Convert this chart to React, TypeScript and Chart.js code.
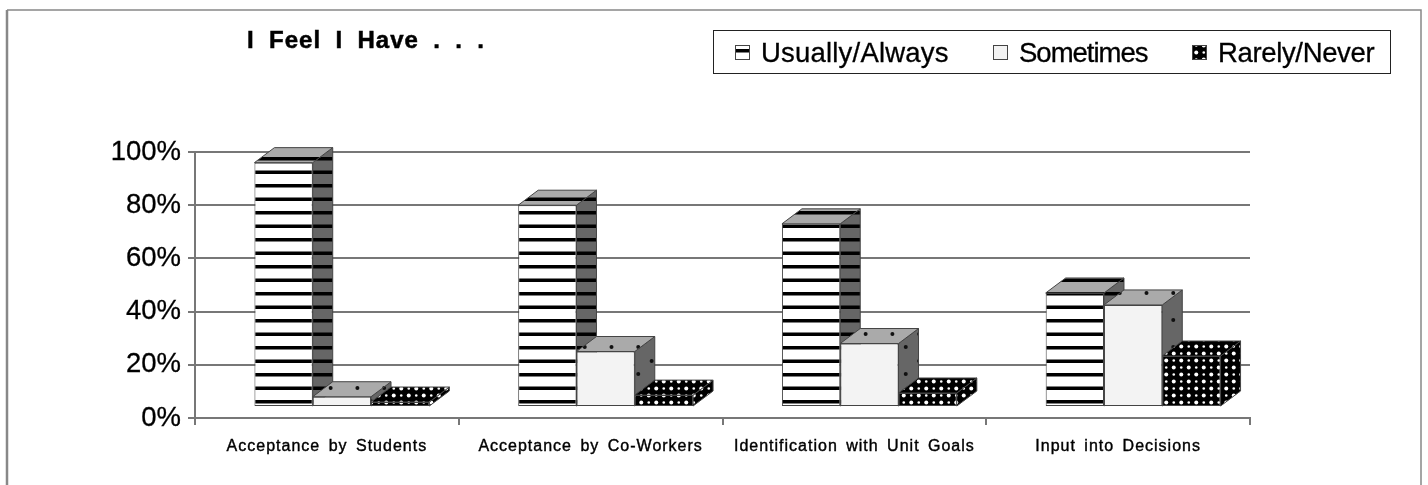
import React, { useEffect, useRef } from "react";
import { Chart, registerables } from "chart.js";

Chart.register(...registerables);

const categories = ["Acceptance by Students", "Acceptance by Co-Workers", "Identification with Unit Goals", "Input into Decisions"];
const usuallyAlways = [96, 80, 73, 47];
const sometimes = [8, 25, 28, 42.5];
const rarelyNever = [6, 8.6, 9.4, 23.3];
const seriesNames = ["Usually/Always", "Sometimes", "Rarely/Never"];
const yTicks = [0, 20, 40, 60, 80, 100];
const titleText = "I Feel I Have . . .";
const floorValue = 4.5;

const DX = 20;
const DY = 15;
const SHIFT = 15;
const FONT = '"Liberation Sans", Arial, sans-serif';

function tile(w: number, h: number, paint: (g: CanvasRenderingContext2D) => void) {
  const c = document.createElement("canvas");
  c.width = w;
  c.height = h;
  paint(c.getContext("2d")!);
  return c;
}
function pat(c: HTMLCanvasElement) {
  return c.getContext("2d")!.createPattern(c, "repeat")!;
}
const stripes = (bg: string) =>
  pat(tile(8, 27, (g) => {
    g.fillStyle = bg;
    g.fillRect(0, 0, 8, 27);
    g.fillStyle = "#000";
    g.fillRect(0, 8.5, 8, 3.5);
    g.fillRect(0, 22, 8, 3.5);
  }));
const dots = (bg: string) =>
  pat(tile(107, 27, (g) => {
    g.fillStyle = bg;
    g.fillRect(0, 0, 107, 27);
    g.fillStyle = "#111";
    for (let k = 0; k < 4; k++) {
      g.beginPath();
      g.arc(8 + 26.75 * k, 23, 2, 0, Math.PI * 2);
      g.fill();
      g.beginPath();
      g.arc(21.4 + 26.75 * k, 10, 2, 0, Math.PI * 2);
      g.fill();
    }
  }));
const lattice = () =>
  pat(tile(15, 14, (g) => {
    g.fillStyle = "#000";
    g.fillRect(0, 0, 15, 14);
    g.fillStyle = "#fff";
    [[3.75, 3.5, 2], [11.25, 3.5, 1.3], [3.75, 10.5, 1.3], [11.25, 10.5, 2]].forEach(([x, y, r]) => {
      g.beginPath();
      g.arc(x, y, r, 0, Math.PI * 2);
      g.fill();
    });
  }));

function poly(ctx: CanvasRenderingContext2D, pts: number[][], fill: CanvasPattern | string) {
  ctx.beginPath();
  pts.forEach(([x, y], i) => (i ? ctx.lineTo(x, y) : ctx.moveTo(x, y)));
  ctx.closePath();
  ctx.fillStyle = fill;
  ctx.fill();
  ctx.strokeStyle = "#444";
  ctx.lineWidth = 1;
  ctx.stroke();
}

export default function App() {
  const ref = useRef<HTMLCanvasElement>(null);
  useEffect(() => {
    const faces = [
      { front: stripes("#fff"), side: stripes("#666"), top: stripes("#aaa") },
      { front: "#f3f3f3", side: dots("#666"), top: dots("#aaa") },
      { front: lattice(), side: lattice(), top: lattice() },
    ];

    const depthBars = {
      id: "depthBars",
      beforeDatasetsDraw(chart: any) {
        const { ctx } = chart;
        ctx.save();
        ctx.translate(SHIFT, 0);
        chart.getSortedVisibleDatasetMetas().forEach((meta: any, d: number) => {
          meta.data.forEach((bar: any) => {
            const p = bar.getProps(["x", "y", "base", "width"], true);
            const l = p.x - p.width / 2;
            const r = p.x + p.width / 2;
            poly(ctx, [[r, p.y], [r + DX, p.y - DY], [r + DX, p.base - DY], [r, p.base]], faces[d].side);
            poly(ctx, [[l, p.y], [l + DX, p.y - DY], [r + DX, p.y - DY], [r, p.y]], faces[d].top);
            bar.draw(ctx);
          });
        });
        ctx.restore();
        // the x axis labels are drawn next: they are widely tracked in the reference
        ctx.letterSpacing = "1px";
        ctx.wordSpacing = "3px";
        return false;
      },
    };

    const annotations = {
      id: "annotations",
      afterDraw(chart: any) {
        const { ctx } = chart;
        ctx.save();
        ctx.letterSpacing = "0px";
        ctx.wordSpacing = "0px";
        ctx.strokeStyle = "#888";
        ctx.lineWidth = 1.5;
        ctx.beginPath();
        ctx.moveTo(1421, 485);
        ctx.lineTo(1421, 10);
        ctx.lineTo(7, 10);
        ctx.stroke();
        ctx.lineWidth = 2.5;
        ctx.beginPath();
        ctx.moveTo(7, 10);
        ctx.lineTo(7, 485);
        ctx.stroke();

        ctx.fillStyle = "#000";
        ctx.strokeStyle = "#000";
        ctx.textBaseline = "alphabetic";
        ctx.textAlign = "left";
        ctx.font = `bold 24px ${FONT}`;
        ctx.letterSpacing = "1px";
        ctx.wordSpacing = "6.7px";
        ctx.lineWidth = 0.5;
        ctx.fillText(titleText, 247, 48);
        ctx.strokeText(titleText, 247, 48);
        ctx.letterSpacing = "0px";
        ctx.wordSpacing = "0px";

        ctx.lineWidth = 1;
        ctx.fillStyle = "#fff";
        ctx.fillRect(713.5, 30.5, 677, 43);
        ctx.strokeStyle = "#222";
        ctx.strokeRect(713.5, 30.5, 677, 43);

        ctx.font = `27.5px ${FONT}`;
        const boxX = [735, 993, 1192];
        const textX = [761, 1019, 1218];
        const tracking = ["0.2px", "-1px", "-0.35px"];
        seriesNames.forEach((name, i) => {
          ctx.fillStyle = faces[i].front;
          ctx.fillRect(boxX[i], 45, 15, 15);
          ctx.strokeStyle = "#444";
          ctx.lineWidth = 1;
          ctx.strokeRect(boxX[i] + 0.5, 45.5, 14, 14);
          ctx.fillStyle = "#000";
          ctx.strokeStyle = "#000";
          ctx.lineWidth = 0.3;
          ctx.letterSpacing = tracking[i];
          ctx.fillText(name, textX[i], 62);
          ctx.strokeText(name, textX[i], 62);
          ctx.letterSpacing = "0px";
        });
        ctx.restore();
      },
    };

    const chart = new Chart(ref.current!, {
      type: "bar",
      data: {
        labels: categories,
        datasets: [usuallyAlways, sometimes, rarelyNever].map((data, i) => ({
          label: seriesNames[i],
          data,
          base: floorValue,
          backgroundColor: faces[i].front,
          borderColor: "#444",
          borderWidth: 1,
          borderSkipped: false,
          barPercentage: 1,
          categoryPercentage: 0.663,
        })),
      },
      plugins: [depthBars, annotations],
      options: {
        animation: false,
        responsive: false,
        devicePixelRatio: 1,
        layout: { padding: { top: 152, left: 0, right: 178, bottom: 0 } },
        plugins: { legend: { display: false }, title: { display: false }, tooltip: { enabled: false } },
        scales: {
          x: {
            afterFit: (s: any) => { s.height = 67; },
            border: { color: "#777", width: 2 },
            grid: { display: true, drawOnChartArea: false, offset: true, color: "#777", tickLength: 7, lineWidth: 2 },
            ticks: {
              color: "#000",
              font: { family: FONT, size: 16 },
              padding: 12,
              maxRotation: 0,
              autoSkip: false,
              z: 1,
              textStrokeColor: "#000",
              textStrokeWidth: 0.4,
            },
          },
          y: {
            min: 0,
            max: 100,
            afterFit: (s: any) => { s.width = 195; },
            afterBuildTicks: (s: any) => { s.ticks = yTicks.map((value) => ({ value })); },
            border: { color: "#777", width: 2 },
            grid: { color: "#777", tickLength: 7, lineWidth: 2 },
            ticks: {
              color: "#000",
              font: { family: FONT, size: 27.5 },
              padding: 7,
              callback: (v: any) => `${v}%`,
              textStrokeColor: "#000",
              textStrokeWidth: 0.3,
            },
          },
        },
      },
    });
    return () => chart.destroy();
  }, []);
  return (
    <canvas
      ref={ref}
      width={1428}
      height={485}
      style={{ position: "absolute", left: 0, top: 0, width: 1428, height: 485, filter: "blur(0.6px)" }}
    />
  );
}
